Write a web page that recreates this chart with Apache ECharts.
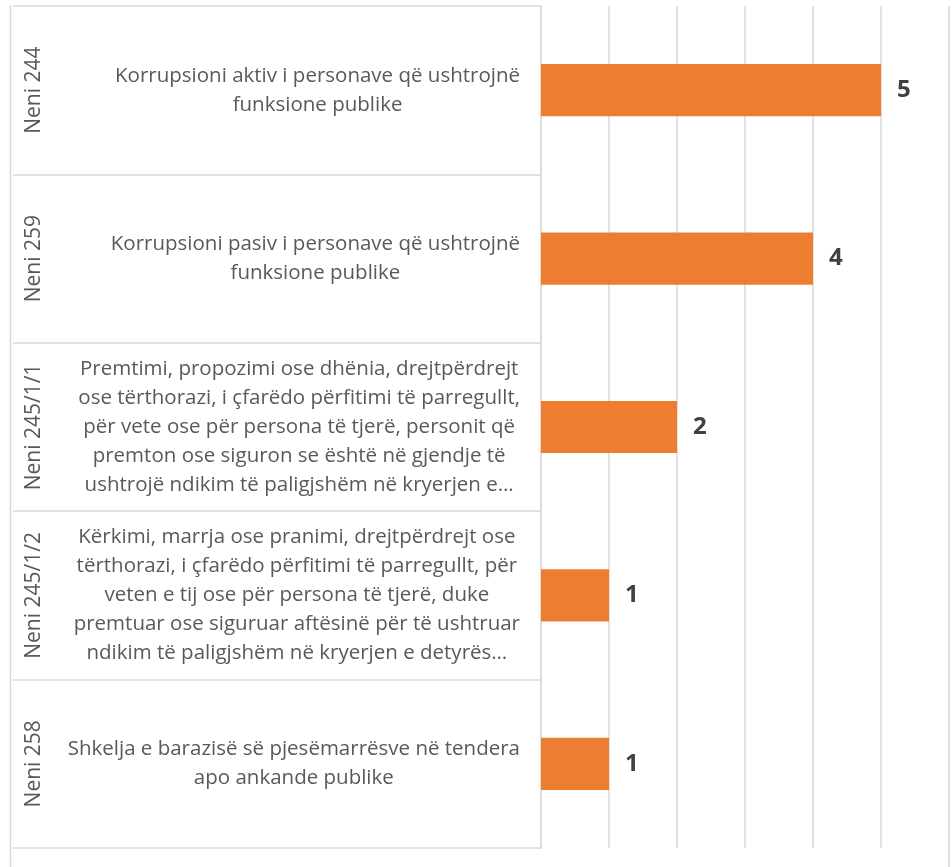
<!DOCTYPE html>
<html>
<head>
<meta charset="UTF-8"/>
<title></title>
<script src="https://cdn.jsdelivr.net/npm/echarts@6/dist/echarts.min.js"></script>
<style>
html, body { margin: 0; padding: 0; background: #fff; }
#chart { width: 952px; height: 867px; }
</style>
</head>
<body>
<div id="chart"></div>
<script type="text/javascript">
// articles (outer level) and their descriptions (inner level)
var articles = ['Neni 244', 'Neni 259', 'Neni 245/1/1', 'Neni 245/1/2', 'Neni 258'];
var descriptions = [
  'Korrupsioni aktiv i personave që ushtrojnë\nfunksione publike',
  'Korrupsioni pasiv i personave që ushtrojnë\nfunksione publike',
  'Premtimi, propozimi ose dhënia, drejtpërdrejt\nose tërthorazi, i çfarëdo përfitimi të parregullt,\npër vete ose për persona të tjerë, personit që\npremton ose siguron se është në gjendje të\nushtrojë ndikim të paligjshëm në kryerjen e…',
  'Kërkimi, marrja ose pranimi, drejtpërdrejt ose\ntërthorazi, i çfarëdo përfitimi të parregullt, për\nveten e tij ose për persona të tjerë, duke\npremtuar ose siguruar aftësinë për të ushtruar\nndikim të paligjshëm në kryerjen e detyrës…',
  'Shkelja e barazisë së pjesëmarrësve në tendera\napo ankande publike'
];
var counts = [5, 4, 2, 1, 1];

var font = 'Open Sans';
var grey = '#d9d9d9';

var myChart = echarts.init(document.getElementById('chart'));

var option = {
  animation: false,
  grid: { left: 541, right: 3, top: 6, bottom: 19 },
  xAxis: {
    type: 'value',
    min: 0,
    max: 6,
    interval: 1,
    axisLabel: { show: false },
    axisLine: { show: false },
    axisTick: { show: false },
    splitLine: { lineStyle: { color: grey, width: 1.5 } }
  },
  yAxis: [
    {
      type: 'category',
      inverse: true,
      data: descriptions,
      axisLine: { show: true, lineStyle: { color: grey, width: 1.5 } },
      axisTick: { show: true, length: 528, lineStyle: { color: grey, width: 1.5 } },
      axisLabel: {
        margin: 21,
        fontFamily: font,
        fontSize: 20.5,
        color: '#595959',
        lineHeight: 29,
        formatter: function (v) {
          return v.split('\n').map(function (l) { return '{c|' + l + '}'; }).join('\n');
        },
        rich: { c: { align: 'center', fontFamily: font, fontSize: 20.5, color: '#595959', lineHeight: 29 } }
      }
    },
    {
      type: 'category',
      inverse: true,
      position: 'left',
      offset: 490,
      data: articles,
      axisLine: { show: false },
      axisTick: { show: false },
      axisLabel: {
        margin: 6,
        rotate: 90,
        fontFamily: font,
        fontSize: 21,
        color: '#595959'
      }
    }
  ],
  series: [
    {
      type: 'bar',
      yAxisIndex: 0,
      data: counts,
      barWidth: '31%',
      itemStyle: { color: '#ED7D31' },
      label: {
        show: true,
        position: 'right',
        distance: 16,
        fontFamily: font,
        fontWeight: 'bold',
        fontSize: 24,
        color: '#404040'
      }
    }
  ],
  graphic: [
    { type: 'line', shape: { x1: 10.5, y1: 5, x2: 10.5, y2: 867 }, style: { stroke: grey, lineWidth: 1.5 } },
    { type: 'line', shape: { x1: 949, y1: 848, x2: 949, y2: 867 }, style: { stroke: grey, lineWidth: 1.5 } }
  ]
};

myChart.setOption(option);
</script>
</body>
</html>
